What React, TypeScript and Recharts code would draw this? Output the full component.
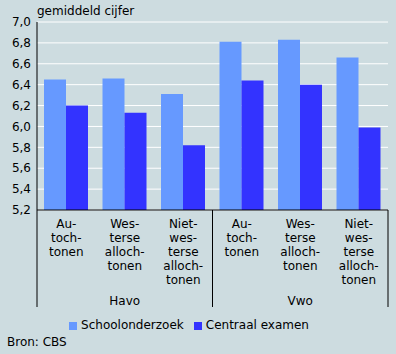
import { BarChart, Bar, XAxis, YAxis, CartesianGrid, Legend } from 'recharts'

const categories = [
  'Havo autochtonen',
  'Havo westerse allochtonen',
  'Havo niet-westerse allochtonen',
  'Vwo autochtonen',
  'Vwo westerse allochtonen',
  'Vwo niet-westerse allochtonen',
]
const tickLines = [
  ['Au-', 'toch-', 'tonen'],
  ['Wes-', 'terse', 'alloch-', 'tonen'],
  ['Niet-', 'wes-', 'terse', 'alloch-', 'tonen'],
  ['Au-', 'toch-', 'tonen'],
  ['Wes-', 'terse', 'alloch-', 'tonen'],
  ['Niet-', 'wes-', 'terse', 'alloch-', 'tonen'],
]
const groups = ['Havo', 'Havo', 'Havo', 'Vwo', 'Vwo', 'Vwo']
const schoolonderzoek = [6.45, 6.46, 6.31, 6.81, 6.83, 6.66]
const centraalExamen = [6.2, 6.13, 5.82, 6.44, 6.4, 5.99]
const yTicks = [5.2, 5.4, 5.6, 5.8, 6.0, 6.2, 6.4, 6.6, 6.8, 7.0]

const data = categories.map((name, i) => ({
  name,
  school: schoolonderzoek[i],
  centraal: centraalExamen[i],
}))

const font = '"DejaVu Sans", Verdana, sans-serif'
const bg = '#cddce0'

function CategoryTick(props: any) {
  const { x, y, payload } = props
  const i = payload.index
  const half = payload.offset ?? 0
  const lines = tickLines[i] || []
  const isGroupMid = i === 1 || i === 4
  const lineBottom = y + 97
  return (
    <g>
      {lines.map((t, k) => (
        <text key={k} x={x} y={y + 18 + k * 14} textAnchor="middle" fontSize={12} fontFamily={font} fill="#000">
          {t}
        </text>
      ))}
      {isGroupMid && (
        <text x={x} y={y + 95} textAnchor="middle" fontSize={12} fontFamily={font} fill="#000">
          {groups[i]}
        </text>
      )}
      {i === 0 && <line x1={x - half} x2={x - half} y1={y} y2={lineBottom} stroke="#000" />}
      {(i === 2 || i === 5) && <line x1={x + half} x2={x + half} y1={y} y2={lineBottom} stroke="#000" />}
    </g>
  )
}

export default function App() {
  return (
    <div style={{ position: 'fixed', left: 0, top: 0, width: 396, height: 354, background: bg, fontFamily: font }}>
      <div style={{ position: 'absolute', left: 37, top: 4, fontSize: 12 }}>gemiddeld cijfer</div>
      <BarChart
        width={396}
        height={354}
        data={data}
        margin={{ top: 22, right: 8, left: 0, bottom: 22 }}
        barCategoryGap={7}
        barGap={0}
      >
        <CartesianGrid vertical={false} stroke="#ffffff" />
        <XAxis
          dataKey="name"
          height={108}
          interval={0}
          tickLine={false}
          tickSize={0}
          tickMargin={0}
          axisLine={{ stroke: '#000' }}
          tick={<CategoryTick />}
        />
        <XAxis xAxisId="top" dataKey="name" orientation="top" height={0} tick={false} tickLine={false} axisLine={{ stroke: '#888' }} />
        <YAxis
          domain={[5.2, 7.0]}
          ticks={yTicks}
          width={37}
          interval={0}
          tickLine={false}
          tickSize={0}
          tickMargin={6}
          axisLine={{ stroke: '#000' }}
          tick={{ fontSize: 12, fontFamily: font, fill: '#000' }}
          tickFormatter={(v: number) => v.toFixed(1).replace('.', ',')}
        />
        <YAxis yAxisId="right" orientation="right" domain={[5.2, 7.0]} width={0} tick={false} tickLine={false} axisLine={{ stroke: '#888' }} />
        <Legend
          verticalAlign="bottom"
          iconType="square"
          iconSize={8}
          itemSorter={(item: any) => (item.dataKey === 'school' ? 0 : 1)}
          wrapperStyle={{ fontSize: 12, fontFamily: font, color: '#000' }}
          formatter={(value: string) => <span style={{ color: '#000' }}>{value}</span>}
        />
        <Bar dataKey="school" name="Schoolonderzoek" fill="#6699ff" isAnimationActive={false} />
        <Bar dataKey="centraal" name="Centraal examen" fill="#3333ff" isAnimationActive={false} />
      </BarChart>
      <div style={{ position: 'absolute', left: 7, top: 335, fontSize: 12 }}>Bron: CBS</div>
    </div>
  )
}
